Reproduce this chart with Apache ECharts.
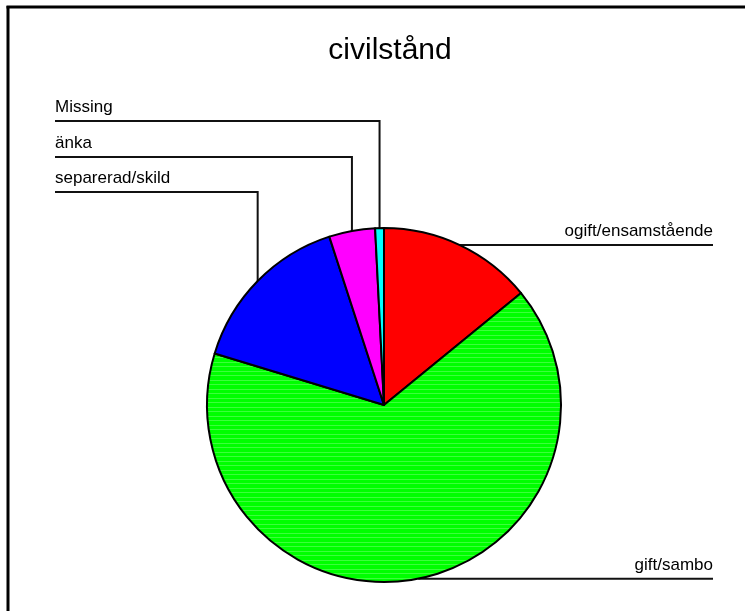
<!DOCTYPE html>
<html><head><meta charset="utf-8">
<script src="https://cdn.jsdelivr.net/npm/echarts@6/dist/echarts.min.js"></script>
<style>html,body{margin:0;padding:0;background:#fff}#c{width:750px;height:611px}</style>
</head><body><div id="c"></div>
<script>
// ---- data ----
const categories = ['ogift/ensamstående', 'gift/sambo', 'separerad/skild', 'änka', 'Missing'];
const values = [14.1, 65.6, 15.3, 4.2, 0.8];
const colors = ['#ff0000', '#00ff00', '#0000ff', '#ff00ff', '#00ffff'];
const titleText = 'civilstånd';

// ---- layout (not data) ----
const leftRows = { 'Missing': 121, 'änka': 157, 'separerad/skild': 192 };
const leftX = 55, rightX = 713;

function stripePattern(base, light) {
  const c = document.createElement('canvas');
  c.width = 8; c.height = 9;
  const g = c.getContext('2d');
  g.fillStyle = base; g.fillRect(0, 0, 8, 9);
  g.fillStyle = light; g.fillRect(0, 2, 8, 1); g.fillRect(0, 6, 8, 1);
  return c;
}

const chart = echarts.init(document.getElementById('c'), null, { renderer: 'canvas' });
const seriesData = categories.map((n, i) => ({
  name: n, value: values[i],
  itemStyle: i === 1
    ? { color: { image: stripePattern('#00ff00', '#3cff3c'), repeat: 'repeat' } }
    : { color: colors[i] }
}));

chart.setOption({
  animation: false,
  backgroundColor: '#ffffff',
  title: {
    text: titleText, left: 385, top: 31, textAlign: 'center',
    textStyle: { fontFamily: 'Liberation Sans', fontSize: 30, fontWeight: 'normal', color: '#000' }
  },
  graphic: [
    { type: 'line', shape: { x1: 8, y1: 6, x2: 8, y2: 611 }, style: { stroke: '#000', lineWidth: 3 } },
    { type: 'line', shape: { x1: 6.5, y1: 7, x2: 745, y2: 7 }, style: { stroke: '#000', lineWidth: 3 } }
  ],
  series: [{
    type: 'pie',
    center: [384, 405],
    radius: 177,
    startAngle: 90,
    clockwise: true,
    avoidLabelOverlap: false,
    data: seriesData,
    itemStyle: { borderColor: '#000', borderWidth: 2 },
    emphasis: { disabled: true },
    label: {
      show: true, position: 'outside',
      fontFamily: 'Liberation Sans', fontSize: 17, color: '#000'
    },
    labelLine: {
      show: true, length: 10, length2: 10, smooth: false,
      lineStyle: { color: '#111', width: 2 }
    },
    labelLayout: function (p) {
      const name = categories[p.dataIndex];
      const pts = p.labelLinePoints;
      const ex = pts[0][0], ey = pts[0][1];
      if (leftRows[name] !== undefined) {
        const ly = leftRows[name];
        return {
          x: leftX, y: ly - 5, align: 'left', verticalAlign: 'bottom',
          labelLinePoints: [[ex, ey], [ex, ly], [leftX, ly]]
        };
      }
      return {
        x: rightX, y: ey - 5, align: 'right', verticalAlign: 'bottom',
        labelLinePoints: [[ex, ey], [ex + 1, ey], [rightX, ey]]
      };
    }
  }]
});
</script></body></html>
